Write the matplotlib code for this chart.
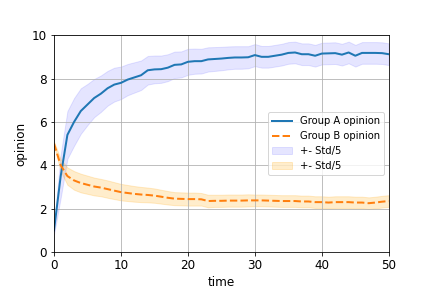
import numpy as np
import matplotlib
matplotlib.use("Agg")
import matplotlib.pyplot as plt

time = list(range(51))
group_a = [1.0, 3.5, 5.4, 6.0, 6.5, 6.8, 7.1, 7.3, 7.55, 7.72, 7.8, 7.95, 8.05, 8.15, 8.38, 8.42, 8.43, 8.5, 8.63, 8.65, 8.77,
           8.8, 8.8, 8.88, 8.9, 8.92, 8.95, 8.97, 8.97, 8.98, 9.08, 9.0, 9.0, 9.05, 9.1, 9.18, 9.2, 9.12, 9.12, 9.05, 9.15,
           9.16, 9.17, 9.1, 9.2, 9.05, 9.18, 9.18, 9.18, 9.17, 9.12]
std_a = [0.2, 1.0, 1.1, 1.1, 1.05, 0.95, 0.88, 0.84, 0.8, 0.78, 0.75, 0.72, 0.7, 0.68, 0.66, 0.64, 0.63, 0.62, 0.61, 0.6, 0.6,
         0.58, 0.57, 0.56, 0.55, 0.54, 0.53, 0.52, 0.52, 0.51, 0.51, 0.5, 0.5, 0.5, 0.5, 0.5, 0.5, 0.5, 0.5, 0.5, 0.5,
         0.5, 0.5, 0.5, 0.5, 0.5, 0.5, 0.5, 0.5, 0.5, 0.5]
group_b = [5.0, 4.0, 3.5, 3.3, 3.18, 3.1, 3.02, 2.97, 2.9, 2.83, 2.76, 2.72, 2.68, 2.65, 2.63, 2.6, 2.55, 2.5, 2.46, 2.45, 2.44,
           2.44, 2.43, 2.35, 2.36, 2.36, 2.37, 2.37, 2.37, 2.38, 2.38, 2.38, 2.37, 2.36, 2.35, 2.35, 2.35, 2.33, 2.33, 2.3, 2.3,
           2.28, 2.3, 2.3, 2.3, 2.28, 2.28, 2.25, 2.28, 2.32, 2.35]
std_b = [0.1, 0.28, 0.4, 0.43, 0.43, 0.42, 0.41, 0.4, 0.4, 0.39, 0.38, 0.37, 0.36, 0.35, 0.34, 0.33, 0.32, 0.31, 0.3, 0.3, 0.3,
         0.3, 0.29, 0.29, 0.28, 0.28, 0.28, 0.28, 0.28, 0.28, 0.27, 0.27, 0.27, 0.27, 0.27, 0.27, 0.27, 0.27, 0.27, 0.27, 0.27,
         0.27, 0.27, 0.27, 0.27, 0.27, 0.27, 0.27, 0.27, 0.27, 0.27]

t = np.array(time)
a = np.array(group_a); sa = np.array(std_a)
b = np.array(group_b); sb = np.array(std_b)

plt.rcParams['font.size'] = 12
fig, ax = plt.subplots(figsize=(6, 4), dpi=72)
fig.subplots_adjust(left=0.125, right=0.9, top=0.878, bottom=0.125)
ax.plot(t, a, color='tab:blue', lw=2, label='Group A opinion')
ax.plot(t, b, color='tab:orange', lw=2, ls='--', label='Group B opinion')
ax.fill_between(t, a - sa, a + sa, color='blue', alpha=0.1, label='+- Std/5')
ax.fill_between(t, b - sb, b + sb, color='orange', alpha=0.2, label='+- Std/5')
ax.set_xlim(0, 50)
ax.set_ylim(0, 10)
ax.set_xlabel('time')
ax.set_ylabel('opinion')
ax.grid(True)
ax.legend(loc='center right', fontsize=10)
fig.savefig('out.png', dpi=72)
